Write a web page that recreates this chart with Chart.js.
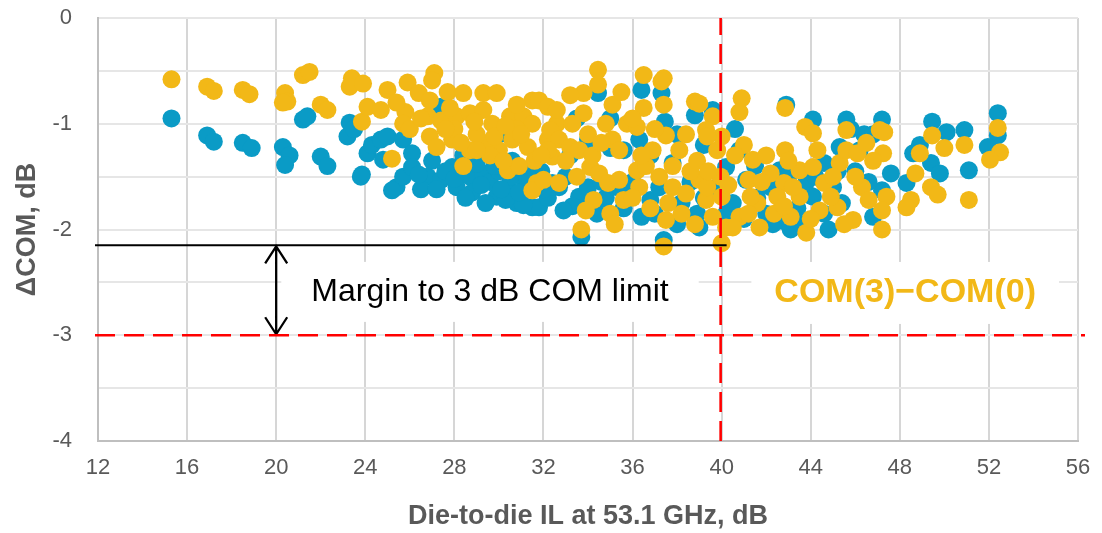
<!DOCTYPE html>
<html lang="en">
<head>
<meta charset="UTF-8">
<title>Delta COM vs die-to-die IL</title>
<script src="https://cdn.jsdelivr.net/npm/chart.js"></script>
<style>
  html, body { margin: 0; padding: 0; background: #fff; }
  .wrap { width: 1102px; height: 533px; position: relative; }
</style>
</head>
<body>
<div class="wrap"><canvas id="comChart"></canvas></div>
<script>
// axis ticks
const xTickStep = 4;
const xMin = 12, xMax = 56;
const yMin = -4, yMax = 0;

// reference lines (dB)
const comLimit = -3;      // 3 dB COM limit
const ilLimit = 40;       // IL budget
const worstDelta = -2.15; // worst observed delta

// blue series: die-to-die IL (dB) and delta COM (dB)
const blueIL = [
  15.3, 16.9, 17.2, 18.5, 18.9, 20.3, 20.6, 20.4, 21.2, 21.4, 22.0, 22.3,
  23.3, 23.2, 23.5, 23.85, 24.1, 23.8, 24.3, 24.7, 25.0, 24.8, 25.7, 25.4,
  25.7, 26.1, 26.1, 26.8, 27.4, 27.4, 28.1, 27.9, 28.7, 29.3, 29.9, 30.8,
  31.5, 30.2, 31.0, 32.4, 30.4, 34.45, 36.4, 37.3, 37.45, 38.8, 39.6, 34.0,
  35.0, 36.3, 40.2, 31.8, 32.7, 33.6, 34.4, 36.4, 38.9, 33.7, 37.4, 35.3,
  37.8, 42.9, 44.1, 45.6, 47.2, 45.3, 44.6, 47.6, 47.2, 43.1, 41.1, 42.6,
  44.1, 40.2, 49.45, 50.1, 50.9, 52.4, 52.4, 51.95, 48.9, 48.6, 49.4, 49.8,
  51.1, 48.3, 27.0, 28.4, 29.0, 29.6, 30.0, 30.6, 31.2, 31.9, 32.2, 33.0,
  33.3, 34.0, 34.8, 35.6, 36.0, 36.8, 37.2, 38.2, 38.6, 39.2, 39.8, 40.5,
  41.0, 41.6, 42.0, 42.8, 43.4, 43.8, 44.6, 45.0, 45.4, 46.0, 46.6, 45.8,
  46.4, 33.2, 35.6, 36.8, 38.0, 39.2, 40.6, 40.8, 33.5, 35.0, 25.2, 30.3,
  31.1, 34.5, 44.0, 46.8, 41.5, 42.2, 43.0, 44.2, 45.2, 46.2, 46.8, 43.6,
  44.8, 42.3, 26.5, 27.6, 28.8, 29.4, 30.5, 31.6, 32.9, 34.6, 35.8, 37.0,
  38.0, 39.0, 26.4, 27.2, 28.0, 28.5, 29.2, 30.1, 30.9, 31.4, 32.0, 29.8
];
const blueDelta = [
  -0.95, -1.11, -1.17, -1.18, -1.23, -1.22, -1.30, -1.39, -0.96, -0.93, -1.31, -1.40,
  -0.99, -1.12, -1.05, -1.48, -1.28, -1.50, -1.20, -1.15, -1.12, -1.34, -1.15, -1.60,
  -1.50, -1.28, -1.41, -1.50, -0.84, -1.53, -1.60, -1.41, -1.50, -1.47, -1.69, -1.75,
  -1.79, -1.09, -1.50, -1.56, -1.60, -0.71, -0.68, -0.71, -0.98, -0.92, -0.87, -1.15,
  -1.23, -1.15, -1.41, -1.79, -1.60, -1.69, -1.85, -1.88, -1.85, -2.07, -2.10, -1.60,
  -1.37, -0.82, -0.96, -0.96, -0.96, -1.22, -1.37, -1.47, -1.63, -2.00, -1.53, -1.44,
  -1.69, -1.85, -0.98, -1.08, -1.06, -0.90, -1.11, -1.22, -1.20, -1.28, -1.37, -1.47,
  -1.44, -1.56, -1.35, -1.30, -1.38, -1.55, -1.45, -1.35, -1.62, -1.45, -1.70, -1.50,
  -1.78, -1.60, -1.70, -1.80, -1.55, -1.72, -1.60, -1.75, -1.55, -1.70, -1.60, -1.75,
  -1.90, -1.70, -1.85, -1.92, -1.80, -1.55, -1.85, -1.60, -1.75, -1.45, -1.55, -1.05,
  -1.10, -1.30, -1.25, -1.30, -1.10, -1.20, -1.05, -1.25, -0.95, -0.95, -1.63, -1.72,
  -1.77, -1.80, -1.68, -1.88, -1.40, -1.60, -1.50, -1.50, -1.45, -1.25, -1.10, -1.95,
  -2.00, -1.95, -1.62, -1.45, -1.65, -1.75, -1.50, -1.40, -1.82, -1.55, -1.65, -1.85,
  -1.95, -1.98, -1.48, -1.62, -1.52, -1.70, -1.58, -1.62, -1.65, -1.52, -1.62, -1.40
];

// gold series: COM(3)-COM(0)
const goldIL = [
  15.3, 16.9, 17.2, 18.5, 18.8, 20.4, 20.5, 20.3, 21.2, 21.5, 22.0, 22.3,
  23.4, 23.3, 23.85, 23.9, 25.0, 25.9, 27.1, 27.0, 26.4, 27.7, 28.4, 29.3,
  29.9, 31.5, 31.8, 24.1, 24.7, 25.8, 25.7, 26.9, 26.8, 27.4, 28.1, 28.7,
  29.3, 29.7, 30.5, 31.1, 31.5, 25.2, 26.9, 27.2, 27.9, 28.7, 29.5, 30.0,
  30.6, 31.3, 32.2, 30.4, 31.7, 31.5, 32.4, 32.6, 32.2, 34.45, 34.45, 36.5,
  37.3, 37.4, 36.5, 35.1, 33.8, 33.2, 32.6, 33.8, 33.3, 32.3, 32.7, 32.2,
  33.2, 35.75, 36.2, 35.1, 35.4, 36.9, 37.5, 38.1, 38.8, 39.6, 39.3, 40.0,
  39.8, 32.0, 34.1, 33.5, 34.5, 34.9, 35.4, 36.2, 36.3, 37.2, 37.8, 38.4,
  39.0, 37.5, 39.3, 39.6, 40.0, 40.2, 40.0, 37.4, 33.7, 35.6, 34.25, 32.7,
  40.9, 40.8, 39.0, 39.35, 42.85, 43.75, 44.1, 42.85, 41.4, 41.2, 42.2, 42.8,
  43.5, 44.1, 44.6, 45.3, 45.6, 46.1, 46.5, 47.1, 45.6, 46.3, 47.4, 47.2,
  47.2, 45.9, 45.2, 44.4, 43.8, 43.1, 42.35, 41.6, 40.8, 40.5, 39.35, 39.95,
  41.3, 42.5, 43.5, 44.9, 41.7, 47.3, 47.25, 49.45, 48.9, 50.0, 50.9, 52.4,
  52.5, 52.05, 48.7, 49.4, 49.7, 51.1, 48.5, 48.3, 28.0, 29.0, 30.8, 31.6,
  30.9, 33.6, 34.0, 34.8, 36.6, 37.8, 38.6, 38.4, 36.0, 35.0, 36.8, 38.2,
  38.8, 34.2, 33.0, 29.6, 28.4, 37.4, 35.5, 41.0, 41.8, 42.0, 43.0, 43.2,
  44.3, 45.0, 46.0, 46.8, 41.2, 42.8, 44.0, 45.5, 40.3, 40.6, 46.6, 33.9,
  35.2, 36.4, 37.0, 38.9, 39.4, 37.6, 34.6, 36.0, 26.0, 26.5, 27.6, 28.3,
  29.0, 29.8, 30.3, 31.0, 31.9, 30.2, 28.9, 27.8, 30.8, 25.4
];
const goldDelta = [
  -0.58, -0.65, -0.69, -0.68, -0.72, -0.71, -0.79, -0.80, -0.54, -0.51, -0.82, -0.87,
  -0.57, -0.65, -0.98, -0.62, -0.68, -0.61, -0.52, -0.59, -0.71, -0.70, -0.71, -0.71,
  -0.71, -0.78, -0.78, -0.84, -0.87, -0.89, -1.00, -0.78, -0.93, -0.97, -0.93, -0.90,
  -0.87, -1.00, -0.93, -0.93, -1.00, -1.33, -1.12, -1.22, -1.15, -1.25, -1.18, -1.25,
  -1.15, -1.22, -1.15, -1.44, -1.56, -1.63, -1.31, -1.00, -0.84, -0.49, -0.63, -0.54,
  -0.60, -0.82, -0.85, -0.82, -0.71, -0.73, -0.87, -0.90, -1.00, -1.06, -1.15, -1.25,
  -1.22, -1.00, -1.03, -1.15, -1.25, -1.25, -1.11, -1.25, -0.79, -0.93, -1.06, -1.12,
  -1.25, -1.53, -1.41, -1.50, -1.47, -1.56, -1.53, -1.44, -1.60, -1.50, -1.60, -1.66,
  -1.53, -1.91, -1.72, -1.88, -1.69, -1.98, -2.13, -2.16, -2.00, -1.72, -1.72, -1.56,
  -0.76, -0.89, -0.81, -1.12, -0.85, -1.03, -1.09, -1.25, -1.34, -1.53, -1.47, -1.56,
  -1.44, -1.41, -1.56, -1.37, -1.25, -1.28, -1.18, -1.06, -1.06, -1.60, -1.69, -1.82,
  -2.00, -1.91, -1.79, -1.82, -2.03, -1.88, -1.85, -1.75, -1.88, -1.98, -1.60, -1.50,
  -1.69, -1.69, -1.69, -1.69, -1.98, -1.08, -1.28, -1.11, -1.28, -1.23, -1.20, -1.04,
  -1.27, -1.34, -1.47, -1.60, -1.67, -1.72, -1.72, -1.79, -1.05, -1.10, -1.05, -1.35,
  -1.40, -1.25, -1.10, -1.00, -1.40, -1.40, -1.45, -1.10, -1.70, -1.85, -1.80, -1.85,
  -1.95, -1.30, -1.35, -1.30, -1.40, -0.57, -0.70, -1.20, -1.55, -1.30, -1.35, -1.60,
  -1.25, -1.50, -1.50, -1.35, -1.85, -1.78, -1.90, -1.95, -1.58, -1.30, -1.72, -1.82,
  -1.95, -1.30, -1.05, -1.35, -1.45, -1.75, -1.18, -0.95, -1.05, -0.95, -1.05, -1.18,
  -1.25, -1.12, -1.02, -1.10, -1.30, -1.35, -0.98, -0.85, -0.82, -0.80
];

const blueColor = '#0a9bc6';
const goldColor = '#f2b817';
const axisText = '#595959';

function toPoints(xs, ys) {
  return xs.map((v, i) => ({ x: v, y: ys[i] }));
}

// text labels placed in data coordinates
const notes = [
  { text: 'Margin to 3 dB COM limit', x: 29.6, y: -2.59, font: '32px "Liberation Sans", Arial, sans-serif', color: '#000', padX: 30, padY: 30 },
  { text: 'COM(3)\u2212COM(0)', x: 48.24, y: -2.6, font: 'bold 34px "Liberation Sans", Arial, sans-serif', color: goldColor, padX: 23, padY: 31 }
];

const overlay = {
  id: 'overlay',
  beforeDatasetsDraw(chart) {
    const { ctx, scales: { x, y } } = chart;
    ctx.save();
    ctx.fillStyle = '#fff';
    notes.forEach(n => {
      ctx.font = n.font;
      const w = ctx.measureText(n.text).width;
      const cx = x.getPixelForValue(n.x), cy = y.getPixelForValue(n.y);
      ctx.fillRect(cx - w / 2 - n.padX, cy - n.padY, w + 2 * n.padX, 2 * n.padY);
    });
    ctx.restore();
  },
  afterDatasetsDraw(chart) {
    const { ctx, scales: { x, y } } = chart;
    const x0 = x.getPixelForValue(xMin) - 3;
    ctx.save();

    // black line at worst delta, up to the IL limit
    ctx.strokeStyle = '#000';
    ctx.lineWidth = 2;
    const yw = y.getPixelForValue(worstDelta);
    ctx.beginPath();
    ctx.moveTo(x0, yw);
    ctx.lineTo(x.getPixelForValue(ilLimit) + 5, yw);
    ctx.stroke();

    // double arrow at x = 20
    const xa = x.getPixelForValue(20);
    const yl = y.getPixelForValue(comLimit);
    ctx.lineWidth = 2.3;
    ctx.beginPath();
    ctx.moveTo(xa, yw + 1);
    ctx.lineTo(xa, yl - 1);
    ctx.moveTo(xa - 11, yw + 18);
    ctx.lineTo(xa, yw + 1);
    ctx.lineTo(xa + 11, yw + 18);
    ctx.moveTo(xa - 11, yl - 18);
    ctx.lineTo(xa, yl - 1);
    ctx.lineTo(xa + 11, yl - 18);
    ctx.stroke();

    // red dashed limits
    ctx.strokeStyle = '#ff0000';
    ctx.lineWidth = 2.6;
    ctx.setLineDash([20, 9]);
    ctx.beginPath();
    ctx.moveTo(x0, yl);
    ctx.lineTo(x.getPixelForValue(xMax) + 7, yl);
    ctx.stroke();
    const xl = x.getPixelForValue(ilLimit) - 1;
    ctx.beginPath();
    ctx.moveTo(xl, y.getPixelForValue(yMin));
    ctx.lineTo(xl, y.getPixelForValue(yMax));
    ctx.stroke();
    ctx.setLineDash([]);

    // notes
    ctx.textAlign = 'center';
    ctx.textBaseline = 'middle';
    notes.forEach(n => {
      ctx.font = n.font;
      ctx.fillStyle = n.color;
      ctx.fillText(n.text, x.getPixelForValue(n.x), y.getPixelForValue(n.y));
    });
    ctx.restore();
  }
};

new Chart(document.getElementById('comChart'), {
  type: 'scatter',
  data: {
    datasets: [
      {
        label: 'COM(3)-COM(0)',
        data: toPoints(goldIL, goldDelta),
        backgroundColor: goldColor,
        borderWidth: 0,
        pointRadius: 9,
        order: 1
      },
      {
        label: 'Other',
        data: toPoints(blueIL, blueDelta),
        backgroundColor: blueColor,
        borderWidth: 0,
        pointRadius: 9,
        order: 2
      }
    ]
  },
  options: {
    responsive: true,
    maintainAspectRatio: false,
    animation: false,
    events: [],
    layout: { padding: { top: 18, right: 24, left: 0, bottom: 0 } },
    plugins: { legend: { display: false }, tooltip: { enabled: false } },
    scales: {
      x: {
        type: 'linear',
        min: xMin,
        max: xMax,
        afterFit: s => { s.height = 92; s.paddingLeft = 12; s.paddingRight = 12; },
        ticks: {
          stepSize: xTickStep,
          autoSkip: false,
          maxRotation: 0,
          padding: 14,
          color: axisText,
          font: { family: '"Liberation Sans", Arial, sans-serif', size: 22 }
        },
        grid: { color: '#d6d6d6', lineWidth: 2, drawTicks: false },
        border: { color: '#bfbfbf', width: 2 },
        title: {
          display: true,
          text: 'Die-to-die IL at 53.1 GHz, dB',
          color: axisText,
          padding: { top: 0, bottom: 0 },
          font: { family: '"Liberation Sans", Arial, sans-serif', size: 27, weight: 'bold' }
        }
      },
      y: {
        type: 'linear',
        min: yMin,
        max: yMax,
        afterFit: s => { s.width = 98; s.paddingTop = 13; s.paddingBottom = 13; },
        ticks: {
          stepSize: 0.5,
          autoSkip: false,
          padding: 26,
          color: axisText,
          font: { family: '"Liberation Sans", Arial, sans-serif', size: 22 },
          callback: v => Number.isInteger(v) ? String(v) : ''
        },
        grid: { color: '#e6e6e6', lineWidth: 2, drawTicks: false },
        border: { color: '#bfbfbf', width: 2 },
        title: {
          display: true,
          text: '\u0394COM, dB',
          color: axisText,
          padding: { top: 11, bottom: 0 },
          font: { family: '"Liberation Sans", Arial, sans-serif', size: 27, weight: 'bold' }
        }
      }
    }
  },
  plugins: [overlay]
});
</script>
</body>
</html>
